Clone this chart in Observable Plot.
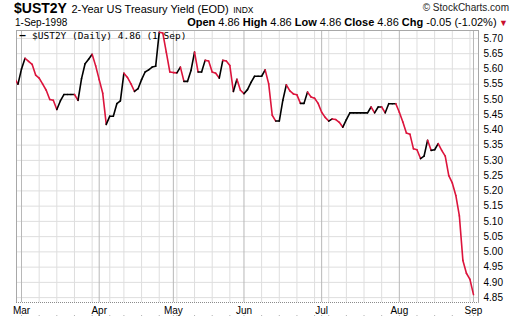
<!DOCTYPE html>
<html>
<head>
<meta charset="utf-8">
<script src="https://cdn.jsdelivr.net/npm/d3@7"></script>
<script src="https://cdn.jsdelivr.net/npm/@observablehq/plot@0.6"></script>
<style>
  body { margin: 0; background: #fff; font-family: "Liberation Sans", Arial, sans-serif; }
  #wrap { position: relative; width: 520px; height: 318px; overflow: hidden; background: #fff; }
  #wrap svg { position: absolute; left: 0; top: 0; }
  .h { position: absolute; white-space: nowrap; color: #000; }
</style>
</head>
<body>
<div id="wrap"></div>
<script>
// ---- data ----
const symbol = "$UST2Y";
const seriesName = "2-Year US Treasury Yield (EOD)";
const exchange = "INDX";
const firstDate = "1998-02-26";
const lastDate = "1998-09-01";
const holidays = ["1998-04-10", "1998-05-25", "1998-07-03"];

// daily closing yields, one per trading day from firstDate to lastDate
const febYields = [5.57, 5.55];
const marYields = [5.60, 5.635, 5.625, 5.615, 5.58, 5.57, 5.55, 5.53, 5.50, 5.497,
                   5.467, 5.495, 5.516, 5.516, 5.516, 5.516, 5.497, 5.568, 5.617, 5.632,
                   5.648, 5.61];
const aprYields = [5.565, 5.52, 5.418, 5.445, 5.445, 5.486, 5.495, 5.586, 5.572, 5.551,
                   5.526, 5.535, 5.565, 5.59, 5.597, 5.606, 5.609, 5.72, 5.718, 5.655,
                   5.59];
const mayYields = [5.588, 5.587, 5.606, 5.559, 5.559, 5.595, 5.655, 5.59, 5.59, 5.628,
                   5.626, 5.59, 5.586, 5.57, 5.628, 5.626, 5.611, 5.526, 5.566, 5.53];
const junYields = [5.519, 5.532, 5.556, 5.576, 5.576, 5.576, 5.597, 5.551, 5.448, 5.429,
                   5.429, 5.497, 5.548, 5.528, 5.518, 5.515, 5.487, 5.487, 5.524, 5.508,
                   5.504, 5.487];
const julYields = [5.458, 5.441, 5.429, 5.436, 5.434, 5.425, 5.409, 5.434, 5.456, 5.456,
                   5.456, 5.456, 5.456, 5.456, 5.475, 5.456, 5.475, 5.475, 5.456, 5.486,
                   5.486, 5.486];
const augYields = [5.458, 5.426, 5.39, 5.386, 5.338, 5.335, 5.306, 5.314, 5.366, 5.333,
                   5.335, 5.355, 5.333, 5.314, 5.25, 5.226, 5.185, 5.118, 4.972, 4.93,
                   4.91];
const sepYields = [4.86];

const monthLabels = ["Mar", "Apr", "May", "Jun", "Jul", "Aug", "Sep"];
const yTicks = [4.85, 4.90, 4.95, 5.00, 5.05, 5.10, 5.15, 5.20, 5.25, 5.30, 5.35,
                5.40, 5.45, 5.50, 5.55, 5.60, 5.65, 5.70];

// ---- build table ----
const yields = [...febYields, ...marYields, ...aprYields, ...mayYields,
                ...junYields, ...julYields, ...augYields, ...sepYields];

const fmt = d3.utcFormat("%Y-%m-%d");
const dates = [];
for (let d = new Date(firstDate + "T00:00:00Z"); d <= new Date(lastDate + "T00:00:00Z"); d = d3.utcDay.offset(d, 1)) {
  const wd = d.getUTCDay();
  if (wd === 0 || wd === 6) continue;
  if (holidays.includes(fmt(d))) continue;
  dates.push(new Date(d));
}
const rows = dates.map((date, k) => ({k, date, v: yields[k]}));

const segs = [];
for (let k = 1; k < rows.length; k++) {
  const a = rows[k - 1], b = rows[k];
  segs.push({x1: a.k, y1: a.v, x2: b.k, y2: b.v, c: b.v < a.v ? "#dc143c" : "#000000"});
}

// month starts (first trading day of each labelled month) and week starts
const monthStarts = [];
const weekStarts = [];
for (let k = 1; k < rows.length; k++) {
  const prev = rows[k - 1].date, cur = rows[k].date;
  if (cur.getUTCMonth() !== prev.getUTCMonth()) monthStarts.push(k);
  else if (cur.getUTCDay() < prev.getUTCDay() || (cur - prev) >= 7 * 864e5) weekStarts.push(k);
}
const monthTicks = monthStarts.map((k, j) => ({k, label: monthLabels[j]}));

const n = rows.length;
const last = rows[n - 1], prevRow = rows[n - 2];
const chg = last.v - prevRow.v;
const pct = chg / prevRow.v * 100;

const ff = "'Liberation Sans', Arial, sans-serif";

const chart = Plot.plot({
  width: 520,
  height: 318,
  marginTop: 30,
  marginBottom: 16,
  marginLeft: 16,
  marginRight: 42,
  style: {fontFamily: ff, fontSize: "10px", background: "transparent", overflow: "visible"},
  x: {type: "linear", domain: [0.58, 131.42], axis: null},
  y: {domain: [4.834, 5.726], axis: null},
  marks: [
    Plot.ruleY(yTicks, {stroke: "#dedede", strokeWidth: 1}),
    Plot.ruleX(weekStarts, {stroke: "#dedede", strokeWidth: 1}),
    Plot.ruleX(monthStarts, {stroke: "#b8b8b8", strokeWidth: 1}),
    Plot.frame({stroke: "#a8a8a8"}),
    Plot.ruleY([4.834], {stroke: "#ffffff", strokeWidth: 1}),
    Plot.ruleY([4.834], {stroke: "#8c8c8c", strokeWidth: 1, strokeDasharray: "1,1"}),
    Plot.dot(weekStarts.concat(monthStarts), {x: d => d, frameAnchor: "bottom", dy: 13, r: 0.6, fill: "#aaa", stroke: null}),
    Plot.link(segs, {x1: "x1", y1: "y1", x2: "x2", y2: "y2", stroke: "c", strokeWidth: 1.6, clip: true, strokeLinecap: "round"}),
    Plot.text(yTicks, {y: d => d, frameAnchor: "right", textAnchor: "start", dx: 5, text: d => d.toFixed(2), fill: "#000", fontSize: 10}),
    Plot.text(monthTicks, {x: "k", frameAnchor: "bottom", dy: 8, lineAnchor: "middle", text: "label", fill: "#000", fontSize: 10}),
    Plot.text(["\u2014"], {frameAnchor: "top-left", dx: 6, dy: 5.5, textAnchor: "middle", lineAnchor: "middle", text: d => d, fontWeight: "bold", fontSize: 10, fill: "#000", fontFamily: "DejaVu Sans Mono"}),
    Plot.text([`${symbol} (Daily) ${last.v.toFixed(2)} (${d3.utcFormat("%-d %b")(last.date)})`], {frameAnchor: "top-left", dx: 15.5, dy: 5.5, textAnchor: "start", lineAnchor: "middle", text: d => d, fontSize: 9.5, fill: "#000", fontFamily: "DejaVu Sans Mono"})
  ]
});
const wrap = document.getElementById("wrap");
wrap.appendChild(chart);

// header
const h1 = document.createElement("div");
h1.className = "h";
h1.style.cssText = "left:14px;top:0px;line-height:16px;";
h1.innerHTML = `<b style="font-size:14px">${symbol}</b> <span style="font-size:11px">${seriesName}</span> <span style="font-size:8.5px">${exchange}</span>`;
wrap.appendChild(h1);

const h1r = document.createElement("div");
h1r.className = "h";
h1r.style.cssText = "right:11px;top:1px;line-height:14px;font-size:10px;color:#222;";
h1r.textContent = "\u00A9 StockCharts.com";
wrap.appendChild(h1r);

const h2 = document.createElement("div");
h2.className = "h";
h2.style.cssText = "left:15px;top:16px;line-height:13px;font-size:10px;";
h2.textContent = d3.utcFormat("%-d-%b-%Y")(last.date);
wrap.appendChild(h2);

const h2r = document.createElement("div");
h2r.className = "h";
h2r.style.cssText = "right:12px;top:16px;line-height:13px;font-size:11px;";
const v2 = x => x.toFixed(2);
h2r.innerHTML = `<b>Open</b> ${v2(last.v)} <b>High</b> ${v2(last.v)} <b>Low</b> ${v2(last.v)} <b>Close</b> ${v2(last.v)} <b>Chg</b> ${v2(chg)} (${v2(pct)}%)<span style="color:#c8102e;font-size:9px;"> \u25BC</span>`;
wrap.appendChild(h2r);
</script>
</body>
</html>
